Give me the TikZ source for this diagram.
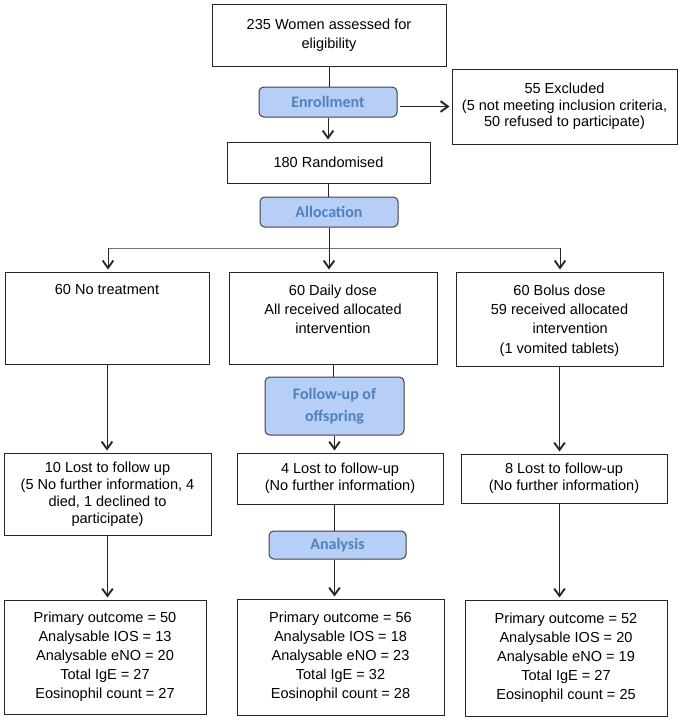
\documentclass[tikz,border=0pt]{standalone}
\usepackage{fontspec}
\setmainfont{Liberation Sans}
\newfontfamily\stagefont{Carlito}
\usetikzlibrary{arrows.meta}
\definecolor{stagefill}{RGB}{183,206,247}
\definecolor{stagetext}{RGB}{79,129,189}
\tikzset{
	box/.style={draw=black!85, line width=0.75pt, inner sep=0pt, align=center, font=\fontsize{10.9}{14.25}\selectfont},
	boxtext/.style={inner sep=0pt, align=center, anchor=north, yshift=-9.75pt, font=\fontsize{10.9}{14.5}\selectfont},
	stage/.style={draw=black!75, fill=stagefill, rounded corners=3.5pt, line width=0.75pt, inner sep=0pt, align=center, text=stagetext, font=\stagefont\bfseries\fontsize{12}{16.5}\selectfont},
	link/.style={line width=0.75pt, draw=black!85},
	arr/.style={link, -{Straight Barb[length=5.5pt,width=8pt,line width=1.4pt]}, shorten >=1.5pt},
}

\begin{document}
\begin{tikzpicture}[x=0.75pt, y=-0.75pt]
		%%%%% START %%%%%
		\useasboundingbox (0, 0) rectangle (682, 721);
		
		\node[box, minimum width=175.5pt, minimum height=46.5pt] (women) at (329, 35) {235 Women assessed for\\eligibility};
		\node[stage, minimum width=103.5pt, minimum height=22.5pt] (enroll) at (328, 102) {Enrollment};
		\node[box, minimum width=168.75pt, minimum height=56.25pt, font=\fontsize{10.9}{12.4}\selectfont] (excl) at (564.5, 106.5) {55 Excluded\\(5 not meeting inclusion criteria,\\50 refused to participate)};
		\node[box, minimum width=152.25pt, minimum height=30.75pt] (random) at (328.5, 162.5) {180 Randomised};
		\node[stage, minimum width=103.5pt, minimum height=22.5pt] (alloc) at (329, 212) {Allocation};
		
		\coordinate (splitl) at (108, 248);
		\coordinate (splitr) at (560, 248);
		
		\node[box, minimum width=153pt, minimum height=69pt] (notreat) at (107, 318) {};
		\node[boxtext] (notreattxt) at (notreat.north) {60 No treatment};
		\node[box, minimum width=156pt, minimum height=69pt] (daily) at (333, 318) {};
		\node[boxtext] (dailytxt) at (daily.north) {60 Daily dose\\All received allocated\\intervention};
		\node[box, minimum width=155.25pt, minimum height=70.5pt] (bolus) at (559.5, 319) {};
		\node[boxtext] (bolustxt) at (bolus.north) {60 Bolus dose\\59 received allocated\\\hspace*{16pt}intervention\\(1 vomited tablets)};
		
		\node[stage, minimum width=104.25pt, minimum height=43.5pt] (followup) at (334.5, 406) {Follow-up of\\offspring};
		
		\node[box, minimum width=155.25pt, minimum height=61.5pt, font=\fontsize{10.9}{12.75}\selectfont] (lostnone) at (107.5, 494) {10 Lost to follow up\\(5 No further information, 4\\died, 1 declined to\\participate)};
		\node[box, minimum width=154.5pt, minimum height=38.25pt, font=\fontsize{10.9}{12.75}\selectfont] (lostdaily) at (340, 478.5) {4 Lost to follow-up\\(No further information)};
		\node[box, minimum width=154.5pt, minimum height=36.75pt, font=\fontsize{10.9}{12.75}\selectfont] (lostbolus) at (564, 478.5) {8 Lost to follow-up\\(No further information)};
		
		\node[stage, minimum width=102.75pt, minimum height=21pt] (analysis) at (337.5, 545) {Analysis};
		
		\node[box, minimum width=151.5pt, minimum height=85.5pt] (outnone) at (105, 657) {Primary outcome = 50\\Analysable IOS = 13\\Analysable eNO = 20\\Total IgE = 27\\Eosinophil count = 27};
		\node[box, minimum width=155.25pt, minimum height=87pt] (outdaily) at (340.5, 657) {Primary outcome = 56\\Analysable IOS = 18\\Analysable eNO = 23\\Total IgE = 32\\Eosinophil count = 28};
		\node[box, minimum width=151.5pt, minimum height=87pt] (outbolus) at (566, 658) {Primary outcome = 52\\Analysable IOS = 20\\Analysable eNO = 19\\Total IgE = 27\\Eosinophil count = 25};
		
		% enrolment and allocation
		\draw[link] (women) -- (women.south |- enroll.north);
		\draw[arr] (enroll.south) -- (enroll.south |- random.north);
		\draw[arr, shorten <=2pt] (enroll.east |- excl.west) -- (excl.west);
		\draw[link] (random.south) -- (random.south |- alloc.north);
		\draw[link] (alloc.south) -- (alloc.south |- splitl);
		\draw[link, draw=black!55] (splitl) -- (splitr);
		\draw[arr] (splitl) -- (splitl |- notreat.north);
		\draw[arr] (alloc.south |- splitl) -- (alloc.south |- daily.north);
		\draw[arr] (splitr) -- (splitr |- bolus.north);
		
		% follow-up
		\draw[arr] (notreat.south) -- (notreat.south |- lostnone.north);
		\draw[link] (daily.south) -- (daily.south |- followup.north);
		\draw[arr] (followup.south) -- (followup.south |- lostdaily.north);
		\draw[arr] (bolus.south) -- (bolus.south |- lostbolus.north);
		
		% analysis
		\draw[arr] (lostnone.south) -- (lostnone.south |- outnone.north);
		\draw[link] (followup.south |- lostdaily.south) -- (followup.south |- analysis.north);
		\draw[arr] (followup.south |- analysis.south) -- (followup.south |- outdaily.north);
		\draw[arr] (bolus.south |- lostbolus.south) -- (bolus.south |- outbolus.north);
		
		%%%%% END %%%%%
	\end{tikzpicture}
\end{document}
